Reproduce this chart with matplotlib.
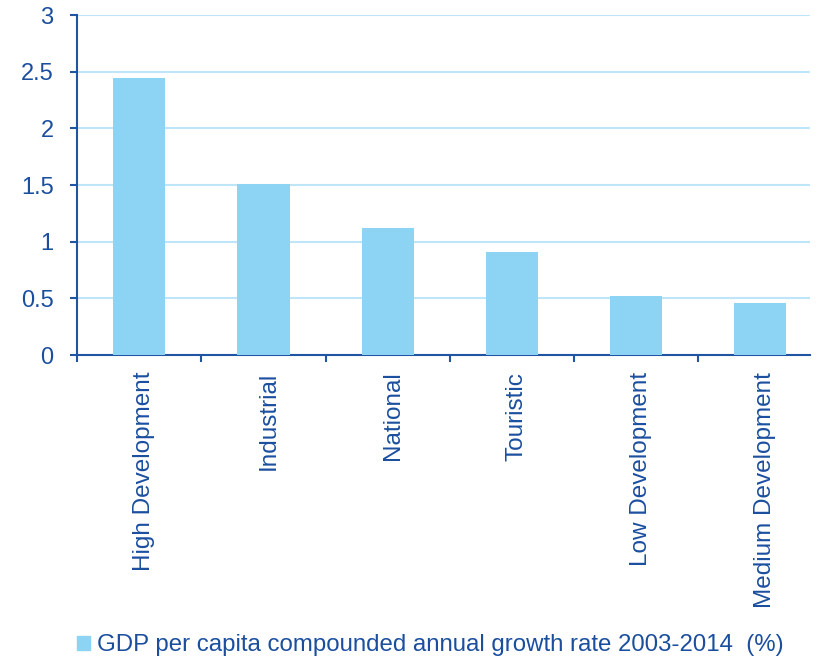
import matplotlib.pyplot as plt
import matplotlib.transforms as mtransforms
from matplotlib.patches import Patch

plt.rcParams['font.family'] = ['Liberation Sans', 'DejaVu Sans']

categories = ['High Development', 'Industrial', 'National', 'Touristic',
              'Low Development', 'Medium Development']
growth = [2.45, 1.51, 1.12, 0.91, 0.52, 0.46]
yticks = [0, 0.5, 1, 1.5, 2, 2.5, 3]
ytick_labels = ['0', '0.5', '1', '1.5', '2', '2.5', '3']
legend_label = 'GDP per capita compounded annual growth rate 2003-2014  (%)'

bar_color = '#8dd3f3'
axis_color = '#1f55a3'
text_color = '#1b4f9e'
grid_color = '#bfe6f8'

fig = plt.figure(figsize=(8.18, 6.62), dpi=100)
ax = fig.add_axes([0.0945, 0.4637, 0.8955, 0.5133])

x = list(range(len(categories)))
ax.bar(x, growth, width=0.42, color=bar_color, zorder=3)

ax.set_ylim(0, 3)
ax.set_xlim(-0.5, 5.4)
ax.set_yticks(yticks)
ax.set_yticklabels(ytick_labels)
ax.yaxis.grid(True, color=grid_color, linewidth=1.5, zorder=0)

ax.set_xticks(x)
ax.set_xticklabels(categories, rotation=90)
ax.set_xticks([i + 0.5 for i in range(-1, len(categories) - 1)], minor=True)
ax.tick_params(axis='x', which='major', length=0, pad=12, labelsize=17.5,
               labelcolor=text_color)
ax.tick_params(axis='x', which='minor', length=5, width=1.5, color=axis_color,
               direction='out')
ax.tick_params(axis='y', length=5, width=1.5, color=axis_color, pad=12,
               labelsize=17, labelcolor=text_color)

# nudge the rotated labels a bit right, like the original
shift = mtransforms.ScaledTranslation(5 / 100, 0, fig.dpi_scale_trans)
for lab in ax.get_xticklabels():
    lab.set_transform(lab.get_transform() + shift)

for side in ['top', 'right']:
    ax.spines[side].set_visible(False)
for side in ['left', 'bottom']:
    ax.spines[side].set_color(axis_color)
    ax.spines[side].set_linewidth(1.5)

handle = Patch(color=bar_color)
fig.legend([handle], [legend_label], loc='center left',
           bbox_to_anchor=(0.082, 0.025), frameon=False, handlelength=0.55,
           handleheight=0.55, handletextpad=0.3, borderaxespad=0,
           prop={'size': 17.3}, labelcolor=text_color)

fig.savefig('out.png', dpi=100)
